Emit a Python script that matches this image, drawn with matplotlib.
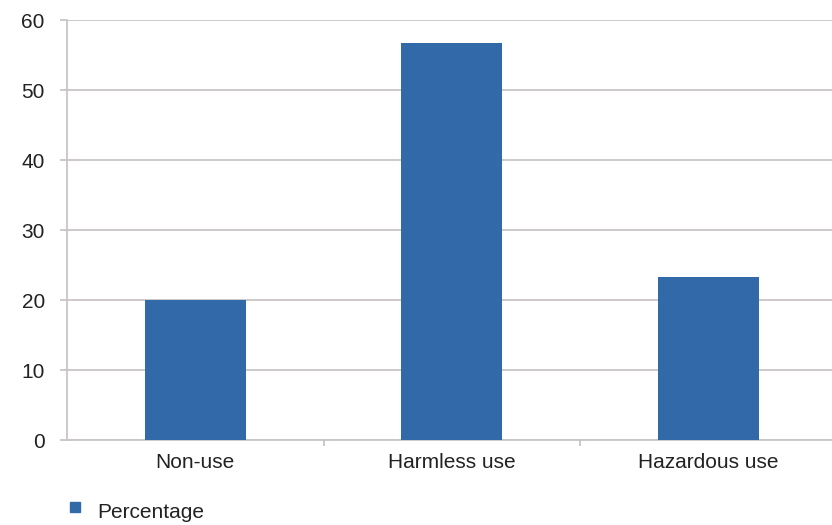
import matplotlib.pyplot as plt
from matplotlib.patches import Rectangle

plt.rcParams['font.family'] = ['Liberation Sans', 'DejaVu Sans']

categories = ['Non-use', 'Harmless use', 'Hazardous use']
percentage = [20.0, 56.7, 23.3]
y_ticks = [0, 10, 20, 30, 40, 50, 60]

bar_color = '#3269a8'
grid_color = '#c9c5c5'
text_color = '#222222'

fig = plt.figure(figsize=(8.32, 5.25), dpi=100)
ax = fig.add_axes([67 / 832, 85 / 525, 1 - 67 / 832, 420 / 525])

x = range(len(categories))
ax.bar(x, percentage, width=0.395, color=bar_color, zorder=3, label='Percentage')

ax.set_ylim(0, 60)
ax.set_xlim(-0.5, 2.482)
ax.set_yticks(y_ticks)
ax.set_yticklabels([str(t) for t in y_ticks], fontsize=15, color=text_color)
ax.yaxis.grid(True, color=grid_color, linewidth=1.3, zorder=0)

ax.set_xticks(list(x))
ax.set_xticklabels(categories, fontsize=15, color=text_color)
ax.tick_params(axis='x', which='major', length=0, pad=9)
ax.set_xticks([0.5, 1.5], minor=True)
ax.tick_params(axis='x', which='minor', length=4, color=grid_color, width=1.3)
ax.tick_params(axis='y', length=5, color=grid_color, width=1.3, pad=11)

for side in ['top', 'right']:
    ax.spines[side].set_visible(False)
for side in ['left', 'bottom']:
    ax.spines[side].set_color(grid_color)
    ax.spines[side].set_linewidth(1.3)

# legend below the plot
fig.patches.append(Rectangle((70 / 832, 1 - 512 / 525), 10 / 832, 10 / 525,
                             transform=fig.transFigure, color=bar_color))
fig.text(97 / 832, 1 - 513 / 525, 'Percentage', fontsize=15, color=text_color,
         va='center', ha='left')

fig.savefig('out.png', dpi=100)
